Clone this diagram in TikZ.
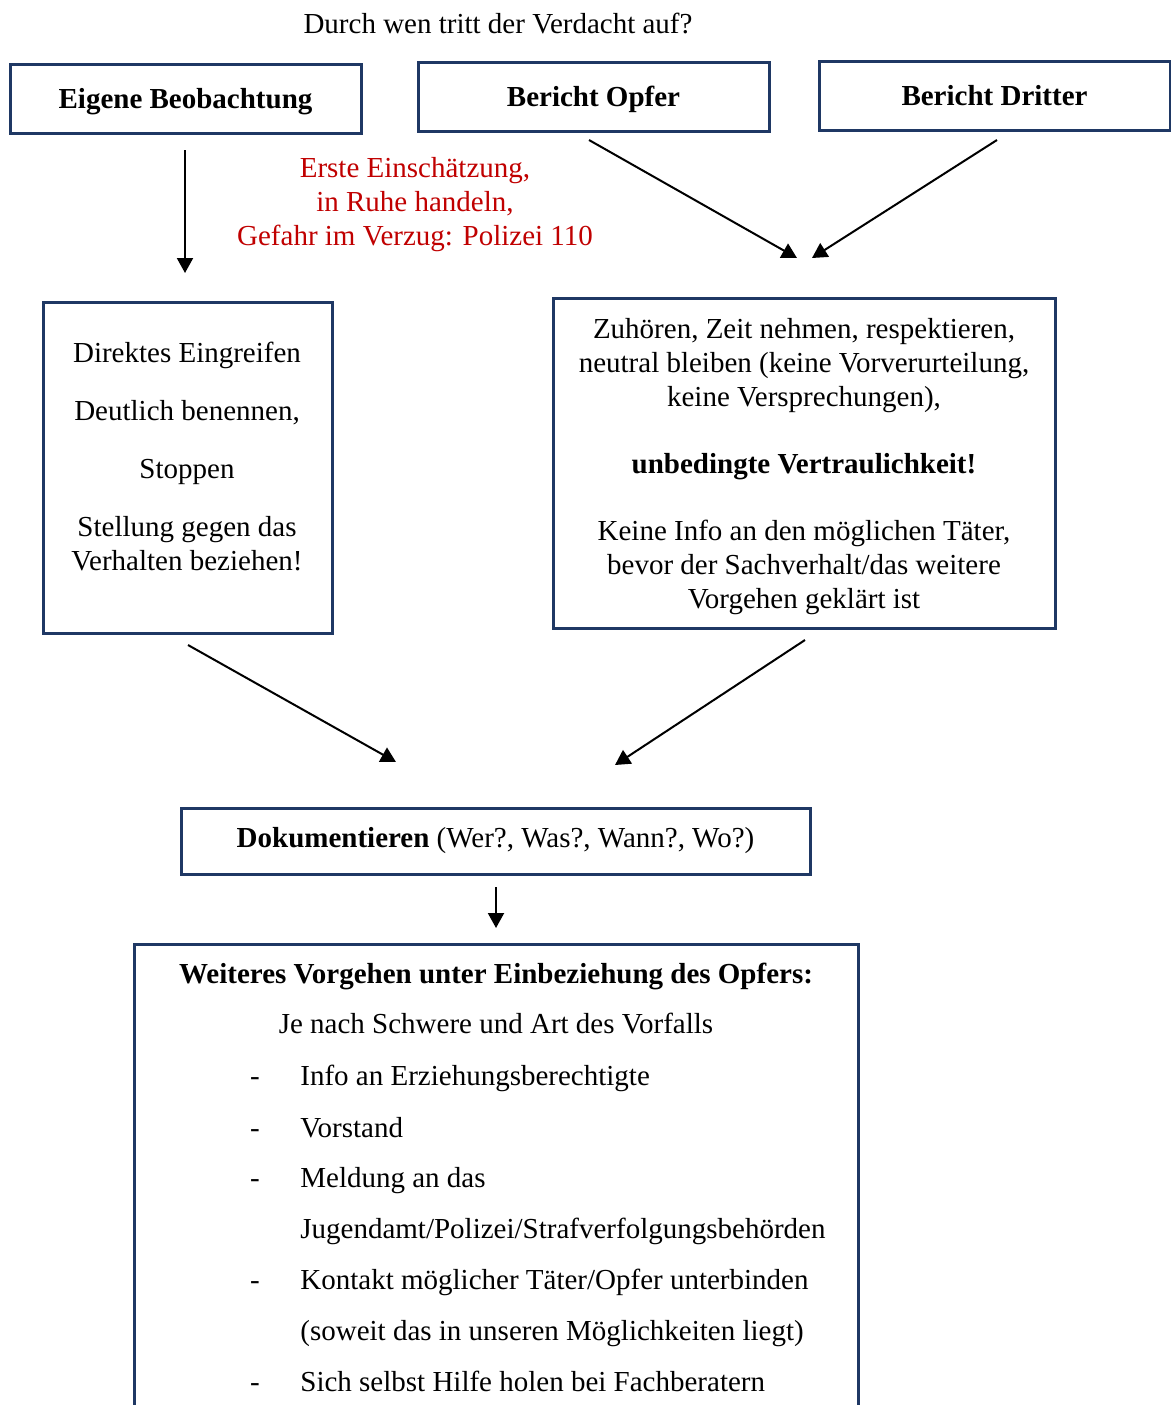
\documentclass[tikz,border=0pt]{standalone}
\usepackage{fontspec}
\setmainfont{Liberation Serif}
\usepackage{xcolor}
\usetikzlibrary{arrows.meta}
\usetikzlibrary{positioning}
\usetikzlibrary{calc}

\definecolor{rahmen}{RGB}{31,56,100}
\definecolor{warnrot}{RGB}{192,0,0}

\tikzset{
  kasten/.style={draw=rahmen, line width=1.5pt, inner sep=0pt, align=center},
  kopf/.style={kasten, minimum width=175.5pt, minimum height=34.5pt, text height=12.5pt, text depth=3pt},
  pfeil/.style={-{Triangle[length=7.5pt,width=8pt]}, line width=1pt},
}

\begin{document}
\begin{tikzpicture}[x=0.5pt, y=-0.5pt, every node/.style={font=\fontsize{14.5}{17}\selectfont}]
  \useasboundingbox (0,0) rectangle (1171,1405);
  \clip (0,0) rectangle (1171,1405);

  % Kopfzeile
  \node (frage) at (498,23) {Durch wen tritt der Verdacht auf?};
  \node[kopf] (eigen)   at (185.5,98.5) {\textbf{Eigene Beobachtung}};
  \node[kopf] (opfer)   at (593.5,96.5) {\textbf{Bericht Opfer}};
  \node[kopf] (dritter) at (994.5,95.5) {\textbf{Bericht Dritter}};

  \node[text=warnrot, align=center] (hinweis) at (415,205)
    {Erste Einschätzung,\\ in Ruhe handeln,\\ Gefahr im Verzug: Polizei 110};

  % mittlere Ebene
  \node[kasten, minimum width=144.5pt, minimum height=165.5pt] (direkt) at (187.5,467.5) {};
  \node[align=center] (direkt-text) at (187,456)
    {Direktes Eingreifen\\[12pt] Deutlich benennen,\\[12pt] Stoppen\\[12pt]
     Stellung gegen das\\ Verhalten beziehen!};

  \node[kasten, minimum width=251pt, minimum height=165pt] (zuhoeren) at (804,463) {};
  \node[align=center] (zuhoeren-text) at (804,467)
    {Zuhören, Zeit nehmen, respektieren,\\ neutral bleiben (keine Vorverurteilung,\\
     keine Versprechungen),\\[16.5pt] \textbf{unbedingte Vertraulichkeit!}\\[16.5pt]
     Keine Info an den möglichen Täter,\\ bevor der Sachverhalt/das weitere\\
     Vorgehen geklärt ist};

  % untere Ebene
  \node[kasten, minimum width=314.5pt, minimum height=33pt] (doku) at (495.5,841)
    {\textbf{Dokumentieren} (Wer?, Was?, Wann?, Wo?)};

  \node[kasten, minimum width=362pt, minimum height=300pt, anchor=north] (vorgehen) at (496,943) {};
  \node[anchor=base] (vorgehen-titel) at (496,983) {\textbf{Weiteres Vorgehen unter Einbeziehung des Opfers:}};
  \node[anchor=base] (vorgehen-sub)   at (496,1033) {Je nach Schwere und Art des Vorfalls};
  \foreach \y/\d/\t in {1085/-/{Info an Erziehungsberechtigte},
                        1137/-/{Vorstand},
                        1187/-/{Meldung an das},
                        1238/{}/{Jugendamt/Polizei/Strafverfolgungsbehörden},
                        1289/-/{Kontakt möglicher Täter/Opfer unterbinden},
                        1340/{}/{(soweit das in unseren Möglichkeiten liegt)},
                        1391/-/{Sich selbst Hilfe holen bei Fachberatern}}
  {
    \node[anchor=base] (strich-\y) at (255,\y) {\d};
    \node[anchor=base west, inner xsep=0pt] (punkt-\y) at (300,\y) {\t};
  }

  % Pfeile
  \coordinate (eigen-aus)   at (185,150);
  \coordinate (direkt-ein)  at (185,273);
  \coordinate (opfer-aus)   at (589,140);
  \coordinate (dritter-aus) at (997,140);
  \coordinate (zuh-ein-l)   at (797,258);
  \coordinate (zuh-ein-r)   at (812,258);
  \coordinate (direkt-aus)  at (188,645);
  \coordinate (zuh-aus)     at (805,640);
  \coordinate (doku-ein-l)  at (396,762);
  \coordinate (doku-ein-r)  at (615,765);
  \coordinate (doku-aus)    at (496,887);
  \coordinate (vorg-ein)    at (496,928);

  \draw[pfeil] (eigen-aus)   -- (direkt-ein);
  \draw[pfeil] (opfer-aus)   -- (zuh-ein-l);
  \draw[pfeil] (dritter-aus) -- (zuh-ein-r);
  \draw[pfeil] (direkt-aus)  -- (doku-ein-l);
  \draw[pfeil] (zuh-aus)     -- (doku-ein-r);
  \draw[pfeil] (doku-aus)    -- (vorg-ein);
\end{tikzpicture}
\end{document}
